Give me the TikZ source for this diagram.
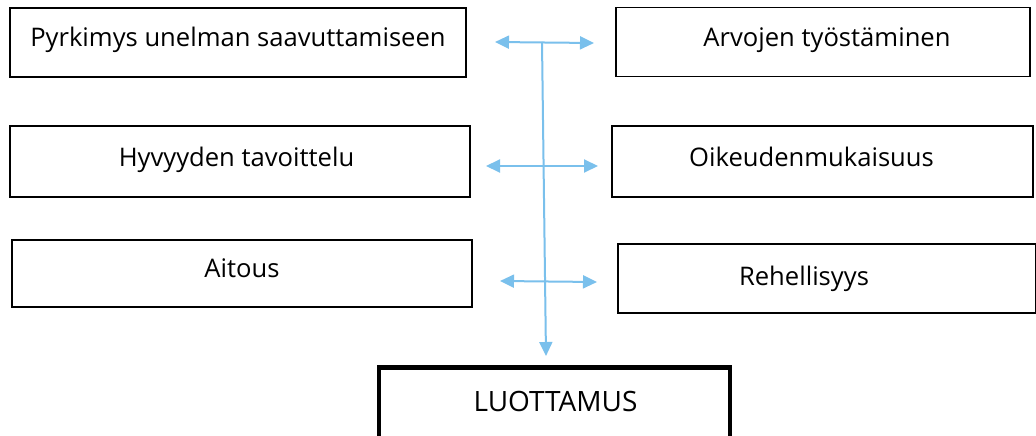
\documentclass[tikz,border=0pt]{standalone}
\usepackage{fontspec}
\setmainfont{Open Sans}
\usetikzlibrary{arrows.meta}
\definecolor{arrowblue}{RGB}{122,192,236}
\begin{document}
\begin{tikzpicture}[x=1pt,y=-1pt,
  box/.style={draw=black,line width=1.3pt,minimum height=69pt,inner sep=0pt},
  bigbox/.style={draw=black,line width=4.5pt,inner sep=0pt},
  lbl/.style={anchor=base,inner sep=0pt,font=\fontsize{25.6}{30}\selectfont},
  biglbl/.style={anchor=base,inner sep=0pt,font=\fontsize{28}{32}\selectfont},
  conn/.style={draw=arrowblue,line width=2pt},
  bihead/.style={conn,{Triangle[length=14pt,width=13pt]}-{Triangle[length=14pt,width=13pt]}},
  onehead/.style={conn,-{Triangle[length=14pt,width=13pt]}}]
\useasboundingbox (0,0) rectangle (1036,436);
\fill[white] (0,0) rectangle (1036,436);
% boxes
\node[box,minimum width=456pt] (pyr) at (238,42.5) {};
\node[lbl] (tpyr) at (238,47) {Pyrkimys unelman saavuttamiseen};
\node[box,minimum width=414pt] (arv) at (823,42) {};
\node[lbl] (tarv) at (827,47) {Arvojen työstäminen};
\node[box,minimum width=460pt,minimum height=71pt] (hyv) at (240,161.5) {};
\node[lbl] (thyv) at (236.5,166) {Hyvyyden tavoittelu};
\node[box,minimum width=421pt,minimum height=71pt] (oik) at (822.5,161.5) {};
\node[lbl] (toik) at (811.5,166.5) {Oikeudenmukaisuus};
\node[box,minimum width=460pt,minimum height=67pt] (ait) at (242,273.5) {};
\node[lbl] (tait) at (242,277) {Aitous};
\node[box,minimum width=418pt] (reh) at (827,278.5) {};
\node[lbl] (treh) at (804,285) {Rehellisyys};
\node[bigbox,minimum width=351pt,minimum height=80pt] (luo) at (554.5,407.5) {};
\node[biglbl] (tluo) at (555.5,411) {LUOTTAMUS};
% connectors
\coordinate (vtop) at (542,42);
\coordinate (vbot) at (546,356);
\coordinate (l1) at (495,42);
\coordinate (r1) at (594,43);
\coordinate (l2) at (486,166);
\coordinate (r2) at (598,166);
\coordinate (l3) at (500,281);
\coordinate (r3) at (597,282);
\draw[onehead] (vtop) -- (vbot);
\draw[bihead] (l1) -- (r1);
\draw[bihead] (l2) -- (r2);
\draw[bihead] (l3) -- (r3);
\end{tikzpicture}
\end{document}
